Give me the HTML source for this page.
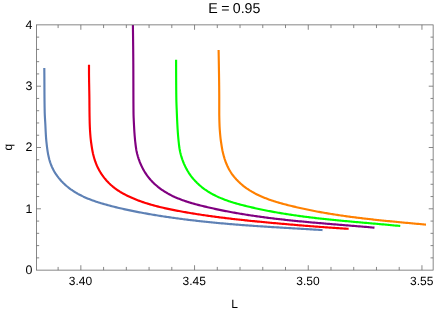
<!DOCTYPE html>
<html><head><meta charset="utf-8"><title>plot</title>
<style>
html,body{margin:0;padding:0;background:#fff;}
body{width:436px;height:313px;overflow:hidden;}
svg{display:block;font-family:"Liberation Sans",sans-serif;text-rendering:geometricPrecision;}
</style></head><body>
<div style="will-change:transform;width:436px;height:313px;">
<svg width="436" height="313" viewBox="0 0 436 313">
<rect x="0" y="0" width="436" height="313" fill="#ffffff"/>
<g>
<path d="M44.30,68.10 L44.32,69.60 L44.33,71.10 L44.34,72.60 L44.36,74.10 L44.37,75.60 L44.38,77.10 L44.39,78.60 L44.39,80.10 L44.40,81.60 L44.41,83.10 L44.42,84.60 L44.42,86.10 L44.43,87.60 L44.44,89.10 L44.44,90.60 L44.45,92.10 L44.46,93.60 L44.47,95.10 L44.48,96.60 L44.49,98.10 L44.51,99.60 L44.52,101.10 L44.54,102.60 L44.56,104.10 L44.58,105.60 L44.60,107.10 L44.63,108.60 L44.66,110.10 L44.69,111.60 L44.73,113.10 L44.79,114.60 L44.86,116.10 L44.94,117.60 L45.03,119.10 L45.12,120.60 L45.21,122.10 L45.30,123.60 L45.38,125.10 L45.45,126.60 L45.52,128.10 L45.59,129.60 L45.66,131.10 L45.74,132.60 L45.82,134.10 L45.91,135.60 L46.01,137.10 L46.12,138.60 L46.25,140.10 L46.40,141.60 L46.56,143.10 L46.73,144.60 L46.90,146.10 L47.09,147.60 L47.29,149.10 L47.50,150.60 L47.74,152.10 L48.00,153.60 L48.29,155.10 L48.55,156.33 L48.83,157.54 L49.13,158.75 L49.45,159.94 L49.80,161.13 L50.17,162.31 L50.57,163.47 L51.00,164.63 L51.45,165.77 L51.93,166.90 L52.44,168.01 L52.98,169.12 L53.55,170.20 L54.15,171.28 L54.78,172.34 L55.43,173.38 L56.11,174.41 L56.81,175.42 L57.53,176.42 L58.28,177.40 L59.05,178.37 L59.85,179.31 L60.66,180.24 L61.49,181.16 L62.35,182.05 L63.22,182.93 L64.11,183.79 L65.01,184.63 L65.93,185.45 L66.86,186.25 L67.81,187.03 L68.78,187.80 L69.75,188.54 L70.74,189.27 L71.74,189.97 L72.75,190.66 L73.78,191.33 L74.81,191.99 L75.86,192.62 L76.92,193.24 L77.98,193.85 L79.06,194.44 L80.15,195.01 L81.24,195.57 L82.35,196.11 L83.46,196.65 L84.58,197.16 L85.71,197.67 L86.85,198.16 L87.99,198.64 L89.14,199.10 L90.29,199.56 L91.46,200.00 L92.63,200.43 L93.80,200.85 L94.98,201.27 L96.16,201.67 L97.35,202.06 L98.54,202.44 L99.73,202.82 L100.93,203.19 L102.13,203.55 L103.33,203.90 L104.54,204.24 L105.74,204.58 L106.95,204.91 L108.16,205.24 L109.37,205.56 L110.58,205.88 L111.79,206.19 L113.00,206.49 L114.20,206.80 L115.41,207.10 L116.62,207.39 L117.83,207.68 L119.03,207.97 L120.24,208.25 L121.45,208.53 L122.66,208.81 L123.86,209.08 L125.07,209.35 L126.27,209.61 L127.48,209.87 L128.69,210.13 L129.89,210.39 L131.10,210.64 L132.31,210.89 L133.51,211.13 L134.72,211.37 L135.93,211.61 L137.13,211.85 L138.34,212.09 L139.55,212.32 L140.76,212.55 L141.97,212.77 L143.17,212.99 L144.38,213.22 L145.59,213.43 L146.81,213.65 L148.02,213.86 L149.23,214.08 L150.44,214.29 L151.65,214.49 L152.87,214.70 L154.08,214.90 L155.30,215.10 L156.51,215.30 L157.73,215.50 L158.95,215.69 L160.17,215.89 L161.38,216.08 L162.60,216.27 L163.82,216.45 L165.04,216.64 L166.26,216.82 L167.48,217.00 L168.71,217.18 L169.93,217.36 L171.15,217.54 L172.37,217.71 L173.60,217.88 L174.82,218.05 L176.05,218.22 L177.27,218.39 L178.50,218.55 L179.72,218.72 L180.95,218.88 L182.17,219.04 L183.40,219.20 L184.63,219.35 L185.86,219.51 L187.09,219.66 L188.31,219.81 L189.54,219.96 L190.77,220.11 L192.00,220.25 L193.23,220.40 L194.46,220.54 L195.69,220.68 L196.92,220.82 L198.15,220.96 L199.38,221.10 L200.62,221.23 L201.85,221.37 L203.08,221.50 L204.31,221.63 L205.54,221.76 L206.78,221.89 L208.01,222.02 L209.24,222.14 L210.48,222.27 L211.71,222.39 L212.94,222.51 L214.18,222.63 L215.41,222.75 L216.64,222.87 L217.88,222.98 L219.11,223.10 L220.35,223.21 L221.58,223.32 L222.81,223.44 L224.05,223.55 L225.28,223.65 L226.52,223.76 L227.75,223.87 L228.99,223.97 L230.22,224.08 L231.45,224.18 L232.69,224.28 L233.92,224.38 L235.16,224.48 L236.39,224.58 L237.62,224.68 L238.86,224.78 L240.09,224.87 L241.33,224.97 L242.56,225.06 L243.79,225.15 L245.03,225.24 L246.26,225.34 L247.49,225.43 L248.73,225.51 L249.96,225.60 L251.19,225.69 L252.42,225.78 L253.66,225.86 L254.89,225.95 L256.12,226.03 L257.35,226.11 L258.59,226.20 L259.82,226.28 L261.05,226.36 L262.28,226.44 L263.51,226.52 L264.75,226.60 L265.98,226.68 L267.21,226.76 L268.44,226.84 L269.67,226.91 L270.91,226.99 L272.14,227.07 L273.37,227.14 L274.60,227.22 L275.83,227.29 L277.07,227.37 L278.30,227.44 L279.53,227.52 L280.76,227.59 L282.00,227.67 L283.23,227.74 L284.46,227.81 L285.69,227.89 L286.93,227.96 L288.16,228.03 L289.39,228.10 L290.63,228.18 L291.86,228.25 L293.09,228.32 L294.33,228.39 L295.56,228.47 L296.79,228.54 L298.03,228.61 L299.26,228.68 L300.50,228.76 L301.73,228.83 L302.97,228.90 L304.20,228.97 L305.44,229.05 L306.67,229.12 L307.91,229.19 L309.15,229.27 L310.38,229.34 L311.62,229.42 L312.86,229.49 L314.09,229.57 L315.33,229.64 L316.57,229.72 L317.81,229.79 L319.05,229.87 L320.29,229.95 L321.53,230.02 L322.52,230.09" fill="none" stroke="#5e81b5" stroke-width="2.15" stroke-linejoin="round"/>
<path d="M89.00,64.75 L89.00,66.25 L89.00,67.75 L89.00,69.25 L89.00,70.75 L89.00,72.25 L89.01,73.75 L89.02,75.25 L89.04,76.75 L89.06,78.25 L89.08,79.75 L89.10,81.25 L89.12,82.75 L89.15,84.25 L89.18,85.75 L89.21,87.25 L89.23,88.75 L89.26,90.25 L89.29,91.75 L89.31,93.25 L89.34,94.75 L89.36,96.25 L89.38,97.75 L89.40,99.25 L89.41,100.75 L89.42,102.25 L89.43,103.75 L89.44,105.25 L89.45,106.75 L89.47,108.25 L89.48,109.75 L89.49,111.25 L89.51,112.75 L89.53,114.25 L89.55,115.75 L89.58,117.25 L89.61,118.75 L89.64,120.25 L89.67,121.75 L89.71,123.25 L89.76,124.75 L89.81,126.25 L89.88,127.75 L89.95,129.25 L90.04,130.75 L90.14,132.25 L90.24,133.75 L90.36,135.25 L90.48,136.75 L90.62,138.25 L90.78,139.75 L90.96,141.25 L91.16,142.75 L91.38,144.25 L91.60,145.75 L91.83,147.25 L92.07,148.75 L92.33,150.25 L92.62,151.75 L92.93,153.25 L93.28,154.75 L93.61,156.05 L93.94,157.26 L94.29,158.46 L94.66,159.65 L95.05,160.83 L95.46,162.00 L95.90,163.17 L96.36,164.32 L96.84,165.46 L97.35,166.59 L97.88,167.70 L98.44,168.81 L99.02,169.90 L99.62,170.97 L100.25,172.04 L100.90,173.08 L101.57,174.12 L102.26,175.14 L102.98,176.14 L103.71,177.13 L104.47,178.10 L105.25,179.05 L106.05,179.99 L106.87,180.91 L107.71,181.81 L108.57,182.70 L109.44,183.56 L110.34,184.41 L111.25,185.24 L112.18,186.04 L113.13,186.83 L114.10,187.60 L115.08,188.35 L116.08,189.08 L117.09,189.79 L118.11,190.49 L119.15,191.16 L120.20,191.83 L121.27,192.47 L122.34,193.10 L123.43,193.71 L124.53,194.31 L125.63,194.89 L126.75,195.46 L127.87,196.01 L129.00,196.55 L130.14,197.08 L131.28,197.59 L132.43,198.09 L133.59,198.58 L134.75,199.06 L135.91,199.53 L137.08,199.99 L138.25,200.43 L139.42,200.87 L140.59,201.29 L141.77,201.71 L142.94,202.12 L144.12,202.51 L145.31,202.90 L146.49,203.28 L147.68,203.65 L148.87,204.02 L150.06,204.37 L151.25,204.72 L152.44,205.06 L153.64,205.39 L154.84,205.72 L156.03,206.03 L157.23,206.35 L158.44,206.65 L159.64,206.95 L160.84,207.24 L162.05,207.53 L163.26,207.81 L164.47,208.08 L165.68,208.35 L166.89,208.62 L168.10,208.88 L169.31,209.14 L170.53,209.39 L171.74,209.64 L172.96,209.88 L174.17,210.12 L175.39,210.36 L176.61,210.59 L177.83,210.82 L179.04,211.05 L180.26,211.28 L181.48,211.50 L182.70,211.72 L183.93,211.94 L185.15,212.16 L186.37,212.37 L187.59,212.58 L188.81,212.79 L190.04,212.99 L191.26,213.20 L192.48,213.40 L193.71,213.60 L194.93,213.80 L196.16,213.99 L197.38,214.19 L198.61,214.38 L199.84,214.56 L201.06,214.75 L202.29,214.94 L203.52,215.12 L204.75,215.30 L205.97,215.48 L207.20,215.65 L208.43,215.83 L209.66,216.00 L210.89,216.17 L212.12,216.34 L213.35,216.51 L214.58,216.67 L215.81,216.84 L217.04,217.00 L218.28,217.16 L219.51,217.32 L220.74,217.48 L221.97,217.63 L223.21,217.79 L224.44,217.94 L225.67,218.09 L226.90,218.24 L228.14,218.39 L229.37,218.53 L230.61,218.68 L231.84,218.82 L233.07,218.96 L234.31,219.10 L235.54,219.24 L236.78,219.38 L238.01,219.52 L239.25,219.65 L240.48,219.79 L241.72,219.92 L242.96,220.05 L244.19,220.18 L245.43,220.31 L246.66,220.44 L247.90,220.57 L249.14,220.70 L250.37,220.82 L251.61,220.95 L252.84,221.07 L254.08,221.19 L255.32,221.32 L256.55,221.44 L257.79,221.56 L259.03,221.68 L260.27,221.80 L261.50,221.92 L262.74,222.03 L263.98,222.15 L265.21,222.27 L266.45,222.38 L267.69,222.50 L268.92,222.61 L270.16,222.72 L271.40,222.84 L272.63,222.95 L273.87,223.06 L275.11,223.17 L276.34,223.29 L277.58,223.40 L278.82,223.51 L280.05,223.62 L281.29,223.73 L282.53,223.84 L283.76,223.94 L285.00,224.05 L286.24,224.16 L287.47,224.27 L288.71,224.37 L289.95,224.48 L291.18,224.59 L292.42,224.69 L293.66,224.80 L294.89,224.90 L296.13,225.00 L297.37,225.11 L298.60,225.21 L299.84,225.31 L301.08,225.41 L302.31,225.51 L303.55,225.61 L304.79,225.71 L306.02,225.81 L307.26,225.91 L308.50,226.01 L309.74,226.11 L310.97,226.20 L312.21,226.30 L313.45,226.39 L314.69,226.49 L315.92,226.58 L317.16,226.68 L318.40,226.77 L319.64,226.86 L320.88,226.95 L322.11,227.04 L323.35,227.13 L324.59,227.22 L325.83,227.31 L327.07,227.40 L328.31,227.49 L329.55,227.58 L330.78,227.66 L332.02,227.75 L333.26,227.83 L334.50,227.92 L335.74,228.00 L336.98,228.08 L338.22,228.16 L339.46,228.24 L340.70,228.32 L341.94,228.40 L343.19,228.48 L344.43,228.56 L345.67,228.64 L346.91,228.71 L348.15,228.79 L348.62,228.82" fill="none" stroke="#ff0000" stroke-width="2.15" stroke-linejoin="round"/>
<path d="M132.90,25.00 L132.92,26.50 L132.94,28.00 L132.96,29.50 L132.98,31.00 L133.00,32.50 L133.02,34.00 L133.04,35.50 L133.06,37.00 L133.07,38.50 L133.09,40.00 L133.11,41.50 L133.13,43.00 L133.14,44.50 L133.16,46.00 L133.18,47.50 L133.19,49.00 L133.21,50.50 L133.22,52.00 L133.23,53.50 L133.25,55.00 L133.26,56.50 L133.27,58.00 L133.28,59.50 L133.29,61.00 L133.30,62.50 L133.31,64.00 L133.32,65.50 L133.32,67.00 L133.33,68.50 L133.34,70.00 L133.34,71.50 L133.35,73.00 L133.35,74.50 L133.36,76.00 L133.36,77.50 L133.36,79.00 L133.37,80.50 L133.37,82.00 L133.38,83.50 L133.38,85.00 L133.38,86.50 L133.39,88.00 L133.39,89.50 L133.39,91.00 L133.40,92.50 L133.40,94.00 L133.41,95.50 L133.41,97.00 L133.42,98.50 L133.42,100.00 L133.43,101.50 L133.44,103.00 L133.45,104.50 L133.46,106.00 L133.47,107.50 L133.48,109.00 L133.49,110.50 L133.50,112.00 L133.52,113.50 L133.55,115.00 L133.60,116.50 L133.66,118.00 L133.72,119.50 L133.79,121.00 L133.86,122.50 L133.94,124.00 L134.02,125.50 L134.10,127.00 L134.18,128.50 L134.27,130.00 L134.36,131.50 L134.46,133.00 L134.57,134.50 L134.69,136.00 L134.82,137.50 L134.95,139.00 L135.09,140.50 L135.26,142.00 L135.44,143.50 L135.62,145.00 L135.81,146.50 L136.02,148.00 L136.25,149.50 L136.53,151.00 L136.86,152.50 L137.22,154.00 L137.62,155.50 L137.97,156.71 L138.34,157.89 L138.72,159.07 L139.13,160.23 L139.55,161.38 L140.00,162.53 L140.47,163.67 L140.96,164.79 L141.47,165.90 L142.01,167.01 L142.56,168.10 L143.14,169.18 L143.73,170.24 L144.35,171.30 L144.99,172.34 L145.65,173.36 L146.33,174.37 L147.03,175.37 L147.75,176.35 L148.50,177.32 L149.26,178.27 L150.05,179.20 L150.85,180.11 L151.68,181.01 L152.52,181.89 L153.38,182.76 L154.26,183.61 L155.16,184.44 L156.08,185.25 L157.01,186.04 L157.95,186.82 L158.91,187.58 L159.89,188.33 L160.87,189.05 L161.87,189.76 L162.89,190.46 L163.91,191.13 L164.94,191.79 L165.99,192.43 L167.04,193.05 L168.10,193.66 L169.17,194.24 L170.25,194.82 L171.34,195.37 L172.43,195.92 L173.54,196.44 L174.65,196.96 L175.76,197.45 L176.89,197.94 L178.02,198.41 L179.15,198.87 L180.29,199.32 L181.44,199.75 L182.59,200.18 L183.75,200.59 L184.92,200.99 L186.08,201.38 L187.26,201.76 L188.43,202.14 L189.61,202.50 L190.80,202.86 L191.98,203.21 L193.17,203.55 L194.36,203.88 L195.56,204.21 L196.75,204.53 L197.95,204.84 L199.15,205.15 L200.35,205.46 L201.56,205.76 L202.76,206.05 L203.96,206.35 L205.17,206.64 L206.37,206.92 L207.57,207.20 L208.78,207.48 L209.98,207.76 L211.19,208.03 L212.40,208.30 L213.60,208.57 L214.81,208.83 L216.01,209.09 L217.22,209.35 L218.43,209.61 L219.63,209.86 L220.84,210.11 L222.05,210.35 L223.26,210.60 L224.47,210.84 L225.68,211.07 L226.88,211.31 L228.09,211.54 L229.30,211.77 L230.51,211.99 L231.72,212.22 L232.93,212.44 L234.14,212.65 L235.36,212.87 L236.57,213.08 L237.78,213.29 L238.99,213.50 L240.20,213.71 L241.41,213.91 L242.63,214.11 L243.84,214.31 L245.05,214.50 L246.27,214.70 L247.48,214.89 L248.69,215.08 L249.91,215.26 L251.12,215.45 L252.33,215.63 L253.55,215.81 L254.76,215.99 L255.98,216.16 L257.19,216.33 L258.41,216.51 L259.63,216.67 L260.84,216.84 L262.06,217.01 L263.27,217.17 L264.49,217.33 L265.71,217.49 L266.92,217.65 L268.14,217.81 L269.36,217.96 L270.58,218.11 L271.79,218.26 L273.01,218.41 L274.23,218.56 L275.45,218.70 L276.67,218.85 L277.89,218.99 L279.11,219.13 L280.32,219.27 L281.54,219.41 L282.76,219.54 L283.98,219.68 L285.20,219.81 L286.42,219.95 L287.64,220.08 L288.86,220.21 L290.08,220.33 L291.31,220.46 L292.53,220.59 L293.75,220.71 L294.97,220.83 L296.19,220.95 L297.41,221.08 L298.63,221.20 L299.86,221.31 L301.08,221.43 L302.30,221.55 L303.52,221.66 L304.75,221.78 L305.97,221.89 L307.19,222.00 L308.41,222.12 L309.64,222.23 L310.86,222.34 L312.08,222.45 L313.31,222.56 L314.53,222.66 L315.75,222.77 L316.98,222.88 L318.20,222.98 L319.43,223.09 L320.65,223.19 L321.88,223.30 L323.10,223.40 L324.33,223.51 L325.55,223.61 L326.77,223.71 L328.00,223.81 L329.23,223.91 L330.45,224.02 L331.68,224.12 L332.90,224.22 L334.13,224.32 L335.35,224.42 L336.58,224.52 L337.80,224.62 L339.03,224.72 L340.26,224.82 L341.48,224.92 L342.71,225.02 L343.93,225.12 L345.16,225.21 L346.39,225.31 L347.61,225.41 L348.84,225.51 L350.07,225.61 L351.29,225.71 L352.52,225.81 L353.75,225.91 L354.98,226.01 L356.20,226.11 L357.43,226.21 L358.66,226.32 L359.88,226.42 L361.11,226.52 L362.34,226.62 L363.57,226.72 L364.79,226.83 L366.02,226.93 L367.25,227.04 L368.48,227.14 L369.70,227.25 L370.93,227.35 L372.16,227.46 L373.39,227.57 L374.47,227.66" fill="none" stroke="#800080" stroke-width="2.15" stroke-linejoin="round"/>
<path d="M176.10,59.75 L176.10,61.25 L176.10,62.75 L176.10,64.25 L176.11,65.75 L176.11,67.25 L176.11,68.75 L176.12,70.25 L176.12,71.75 L176.13,73.25 L176.13,74.75 L176.14,76.25 L176.15,77.75 L176.15,79.25 L176.16,80.75 L176.17,82.25 L176.18,83.75 L176.19,85.25 L176.20,86.75 L176.21,88.25 L176.22,89.75 L176.24,91.25 L176.25,92.75 L176.27,94.25 L176.29,95.75 L176.31,97.25 L176.34,98.75 L176.36,100.25 L176.40,101.75 L176.45,103.25 L176.50,104.75 L176.56,106.25 L176.62,107.75 L176.69,109.25 L176.75,110.75 L176.81,112.25 L176.87,113.75 L176.93,115.25 L176.99,116.75 L177.05,118.25 L177.12,119.75 L177.19,121.25 L177.26,122.75 L177.34,124.25 L177.42,125.75 L177.50,127.25 L177.59,128.75 L177.69,130.25 L177.79,131.75 L177.89,133.25 L178.01,134.75 L178.13,136.25 L178.27,137.75 L178.41,139.25 L178.56,140.75 L178.72,142.25 L178.88,143.75 L179.06,145.25 L179.25,146.75 L179.47,148.25 L179.73,149.75 L180.02,151.25 L180.35,152.75 L180.72,154.25 L181.13,155.75 L181.48,156.92 L181.85,158.10 L182.24,159.28 L182.66,160.44 L183.10,161.59 L183.56,162.74 L184.03,163.87 L184.54,165.00 L185.06,166.11 L185.60,167.21 L186.16,168.30 L186.75,169.38 L187.35,170.45 L187.98,171.50 L188.63,172.54 L189.30,173.56 L189.99,174.57 L190.70,175.57 L191.43,176.55 L192.18,177.51 L192.95,178.46 L193.75,179.40 L194.56,180.31 L195.40,181.21 L196.25,182.09 L197.12,182.96 L198.01,183.80 L198.92,184.64 L199.84,185.45 L200.78,186.25 L201.73,187.03 L202.70,187.79 L203.68,188.53 L204.67,189.26 L205.68,189.97 L206.70,190.66 L207.73,191.34 L208.77,191.99 L209.82,192.63 L210.88,193.26 L211.95,193.86 L213.03,194.45 L214.11,195.02 L215.20,195.57 L216.31,196.11 L217.42,196.64 L218.53,197.15 L219.65,197.64 L220.78,198.13 L221.92,198.60 L223.06,199.05 L224.21,199.50 L225.36,199.93 L226.52,200.35 L227.69,200.76 L228.85,201.16 L230.03,201.55 L231.20,201.93 L232.38,202.30 L233.57,202.66 L234.76,203.02 L235.95,203.36 L237.14,203.70 L238.33,204.03 L239.53,204.36 L240.73,204.68 L241.93,204.99 L243.13,205.30 L244.33,205.61 L245.54,205.91 L246.74,206.20 L247.94,206.50 L249.15,206.79 L250.35,207.07 L251.56,207.35 L252.77,207.63 L253.97,207.91 L255.18,208.18 L256.39,208.45 L257.59,208.71 L258.80,208.97 L260.01,209.23 L261.22,209.48 L262.43,209.73 L263.64,209.98 L264.85,210.23 L266.06,210.47 L267.27,210.71 L268.48,210.94 L269.69,211.17 L270.90,211.40 L272.12,211.63 L273.33,211.85 L274.54,212.07 L275.75,212.29 L276.97,212.50 L278.18,212.71 L279.40,212.92 L280.61,213.12 L281.83,213.33 L283.04,213.53 L284.26,213.73 L285.47,213.92 L286.69,214.11 L287.91,214.30 L289.12,214.49 L290.34,214.68 L291.56,214.86 L292.78,215.04 L294.00,215.22 L295.22,215.39 L296.43,215.56 L297.65,215.74 L298.87,215.90 L300.09,216.07 L301.31,216.24 L302.53,216.40 L303.75,216.56 L304.97,216.72 L306.20,216.87 L307.42,217.03 L308.64,217.18 L309.86,217.33 L311.08,217.48 L312.31,217.63 L313.53,217.77 L314.75,217.92 L315.97,218.06 L317.20,218.20 L318.42,218.34 L319.64,218.48 L320.87,218.61 L322.09,218.75 L323.32,218.88 L324.54,219.01 L325.77,219.14 L326.99,219.27 L328.22,219.40 L329.44,219.53 L330.67,219.65 L331.89,219.78 L333.12,219.90 L334.34,220.02 L335.57,220.14 L336.80,220.26 L338.02,220.38 L339.25,220.50 L340.48,220.62 L341.70,220.73 L342.93,220.85 L344.16,220.96 L345.38,221.08 L346.61,221.19 L347.84,221.30 L349.07,221.41 L350.29,221.53 L351.52,221.64 L352.75,221.75 L353.98,221.86 L355.21,221.97 L356.43,222.07 L357.66,222.18 L358.89,222.29 L360.12,222.40 L361.35,222.51 L362.58,222.61 L363.81,222.72 L365.03,222.83 L366.26,222.94 L367.49,223.04 L368.72,223.15 L369.95,223.26 L371.18,223.36 L372.41,223.47 L373.64,223.58 L374.87,223.68 L376.09,223.79 L377.32,223.90 L378.55,224.01 L379.78,224.12 L381.01,224.22 L382.24,224.33 L383.47,224.44 L384.70,224.55 L385.93,224.66 L387.16,224.77 L388.39,224.89 L389.61,225.00 L390.84,225.11 L392.07,225.22 L393.30,225.34 L394.53,225.45 L395.76,225.57 L396.99,225.69 L398.22,225.80 L399.45,225.92 L400.27,226.00" fill="none" stroke="#00ff00" stroke-width="2.15" stroke-linejoin="round"/>
<path d="M218.60,50.00 L218.63,51.50 L218.66,53.00 L218.68,54.50 L218.71,56.00 L218.73,57.50 L218.76,59.00 L218.78,60.50 L218.81,62.00 L218.83,63.50 L218.86,65.00 L218.88,66.50 L218.91,68.00 L218.93,69.50 L218.96,71.00 L218.98,72.50 L219.01,74.00 L219.03,75.50 L219.05,77.00 L219.08,78.50 L219.10,80.00 L219.12,81.50 L219.14,83.00 L219.15,84.50 L219.17,86.00 L219.19,87.50 L219.20,89.00 L219.21,90.50 L219.22,92.00 L219.23,93.50 L219.24,95.00 L219.25,96.50 L219.25,98.00 L219.25,99.50 L219.25,101.00 L219.25,102.50 L219.25,104.00 L219.25,105.50 L219.25,107.00 L219.25,108.50 L219.25,110.00 L219.25,111.50 L219.25,113.00 L219.26,114.50 L219.28,116.00 L219.31,117.50 L219.34,119.00 L219.38,120.50 L219.42,122.00 L219.47,123.50 L219.52,125.00 L219.58,126.50 L219.66,128.00 L219.76,129.50 L219.87,131.00 L219.99,132.50 L220.12,134.00 L220.26,135.50 L220.40,137.00 L220.56,138.50 L220.75,140.00 L220.96,141.50 L221.19,143.00 L221.42,144.50 L221.65,146.00 L221.89,147.50 L222.15,149.00 L222.43,150.50 L222.76,152.00 L223.12,153.50 L223.50,155.00 L223.83,156.20 L224.17,157.38 L224.52,158.55 L224.90,159.71 L225.30,160.87 L225.72,162.01 L226.16,163.14 L226.62,164.27 L227.10,165.38 L227.61,166.48 L228.13,167.56 L228.69,168.64 L229.26,169.70 L229.87,170.74 L230.49,171.77 L231.15,172.79 L231.83,173.79 L232.54,174.77 L233.27,175.74 L234.02,176.69 L234.80,177.63 L235.59,178.54 L236.41,179.45 L237.25,180.33 L238.11,181.20 L238.99,182.06 L239.88,182.89 L240.80,183.71 L241.72,184.51 L242.67,185.30 L243.62,186.07 L244.60,186.82 L245.58,187.55 L246.57,188.27 L247.58,188.96 L248.60,189.64 L249.62,190.31 L250.66,190.95 L251.70,191.58 L252.75,192.19 L253.81,192.78 L254.88,193.36 L255.96,193.93 L257.04,194.47 L258.13,195.01 L259.23,195.53 L260.33,196.03 L261.44,196.53 L262.55,197.01 L263.68,197.48 L264.80,197.93 L265.94,198.37 L267.07,198.81 L268.22,199.23 L269.36,199.64 L270.52,200.04 L271.67,200.44 L272.83,200.82 L274.00,201.19 L275.16,201.56 L276.33,201.92 L277.50,202.27 L278.68,202.61 L279.86,202.95 L281.03,203.28 L282.22,203.61 L283.40,203.93 L284.58,204.25 L285.77,204.56 L286.95,204.87 L288.14,205.17 L289.32,205.47 L290.51,205.77 L291.70,206.06 L292.89,206.35 L294.08,206.64 L295.26,206.92 L296.45,207.20 L297.64,207.48 L298.84,207.75 L300.03,208.02 L301.22,208.29 L302.41,208.55 L303.60,208.81 L304.80,209.07 L305.99,209.32 L307.19,209.57 L308.38,209.82 L309.58,210.06 L310.77,210.30 L311.97,210.54 L313.16,210.78 L314.36,211.01 L315.56,211.24 L316.76,211.47 L317.96,211.69 L319.15,211.91 L320.35,212.13 L321.55,212.35 L322.75,212.56 L323.95,212.77 L325.16,212.98 L326.36,213.18 L327.56,213.39 L328.76,213.59 L329.96,213.78 L331.17,213.98 L332.37,214.17 L333.57,214.36 L334.78,214.55 L335.98,214.74 L337.19,214.92 L338.39,215.10 L339.60,215.28 L340.80,215.46 L342.01,215.64 L343.21,215.81 L344.42,215.98 L345.63,216.15 L346.83,216.32 L348.04,216.48 L349.25,216.65 L350.46,216.81 L351.67,216.97 L352.87,217.12 L354.08,217.28 L355.29,217.43 L356.50,217.59 L357.71,217.74 L358.92,217.89 L360.13,218.04 L361.34,218.18 L362.55,218.33 L363.76,218.47 L364.97,218.61 L366.19,218.75 L367.40,218.89 L368.61,219.03 L369.82,219.16 L371.03,219.30 L372.24,219.43 L373.46,219.57 L374.67,219.70 L375.88,219.83 L377.09,219.96 L378.31,220.08 L379.52,220.21 L380.73,220.34 L381.95,220.46 L383.16,220.59 L384.38,220.71 L385.59,220.83 L386.80,220.95 L388.02,221.07 L389.23,221.19 L390.45,221.31 L391.66,221.43 L392.87,221.55 L394.09,221.67 L395.30,221.78 L396.52,221.90 L397.73,222.01 L398.95,222.13 L400.16,222.24 L401.38,222.36 L402.59,222.47 L403.81,222.58 L405.02,222.70 L406.24,222.81 L407.45,222.92 L408.67,223.03 L409.88,223.15 L411.10,223.26 L412.31,223.37 L413.53,223.48 L414.74,223.59 L415.96,223.70 L417.17,223.82 L418.39,223.93 L419.60,224.04 L420.82,224.15 L422.03,224.26 L423.25,224.38 L424.46,224.49 L425.68,224.60 L425.99,224.63" fill="none" stroke="#ff8000" stroke-width="2.15" stroke-linejoin="round"/>
</g>
<g stroke="#666666" stroke-width="0.78" fill="none">
<rect x="36.57" y="24.87" width="396.57" height="245.26"/>
<line x1="58.11" y1="270.13" x2="58.11" y2="266.93"/>
<line x1="58.11" y1="24.87" x2="58.11" y2="28.07"/>
<line x1="80.85" y1="270.13" x2="80.85" y2="265.23"/>
<line x1="80.85" y1="24.87" x2="80.85" y2="29.770000000000003"/>
<line x1="103.59" y1="270.13" x2="103.59" y2="266.93"/>
<line x1="103.59" y1="24.87" x2="103.59" y2="28.07"/>
<line x1="126.33" y1="270.13" x2="126.33" y2="266.93"/>
<line x1="126.33" y1="24.87" x2="126.33" y2="28.07"/>
<line x1="149.07" y1="270.13" x2="149.07" y2="266.93"/>
<line x1="149.07" y1="24.87" x2="149.07" y2="28.07"/>
<line x1="171.81" y1="270.13" x2="171.81" y2="266.93"/>
<line x1="171.81" y1="24.87" x2="171.81" y2="28.07"/>
<line x1="194.55" y1="270.13" x2="194.55" y2="265.23"/>
<line x1="194.55" y1="24.87" x2="194.55" y2="29.770000000000003"/>
<line x1="217.29" y1="270.13" x2="217.29" y2="266.93"/>
<line x1="217.29" y1="24.87" x2="217.29" y2="28.07"/>
<line x1="240.03" y1="270.13" x2="240.03" y2="266.93"/>
<line x1="240.03" y1="24.87" x2="240.03" y2="28.07"/>
<line x1="262.77" y1="270.13" x2="262.77" y2="266.93"/>
<line x1="262.77" y1="24.87" x2="262.77" y2="28.07"/>
<line x1="285.51" y1="270.13" x2="285.51" y2="266.93"/>
<line x1="285.51" y1="24.87" x2="285.51" y2="28.07"/>
<line x1="308.25" y1="270.13" x2="308.25" y2="265.23"/>
<line x1="308.25" y1="24.87" x2="308.25" y2="29.770000000000003"/>
<line x1="330.99" y1="270.13" x2="330.99" y2="266.93"/>
<line x1="330.99" y1="24.87" x2="330.99" y2="28.07"/>
<line x1="353.73" y1="270.13" x2="353.73" y2="266.93"/>
<line x1="353.73" y1="24.87" x2="353.73" y2="28.07"/>
<line x1="376.47" y1="270.13" x2="376.47" y2="266.93"/>
<line x1="376.47" y1="24.87" x2="376.47" y2="28.07"/>
<line x1="399.21" y1="270.13" x2="399.21" y2="266.93"/>
<line x1="399.21" y1="24.87" x2="399.21" y2="28.07"/>
<line x1="421.95" y1="270.13" x2="421.95" y2="265.23"/>
<line x1="421.95" y1="24.87" x2="421.95" y2="29.770000000000003"/>
<line x1="36.57" y1="257.87" x2="39.17" y2="257.87"/>
<line x1="433.14" y1="257.87" x2="430.53999999999996" y2="257.87"/>
<line x1="36.57" y1="245.60" x2="39.17" y2="245.60"/>
<line x1="433.14" y1="245.60" x2="430.53999999999996" y2="245.60"/>
<line x1="36.57" y1="233.34" x2="39.17" y2="233.34"/>
<line x1="433.14" y1="233.34" x2="430.53999999999996" y2="233.34"/>
<line x1="36.57" y1="221.08" x2="39.17" y2="221.08"/>
<line x1="433.14" y1="221.08" x2="430.53999999999996" y2="221.08"/>
<line x1="36.57" y1="208.81" x2="40.97" y2="208.81"/>
<line x1="433.14" y1="208.81" x2="428.74" y2="208.81"/>
<line x1="36.57" y1="196.55" x2="39.17" y2="196.55"/>
<line x1="433.14" y1="196.55" x2="430.53999999999996" y2="196.55"/>
<line x1="36.57" y1="184.29" x2="39.17" y2="184.29"/>
<line x1="433.14" y1="184.29" x2="430.53999999999996" y2="184.29"/>
<line x1="36.57" y1="172.03" x2="39.17" y2="172.03"/>
<line x1="433.14" y1="172.03" x2="430.53999999999996" y2="172.03"/>
<line x1="36.57" y1="159.76" x2="39.17" y2="159.76"/>
<line x1="433.14" y1="159.76" x2="430.53999999999996" y2="159.76"/>
<line x1="36.57" y1="147.50" x2="40.97" y2="147.50"/>
<line x1="433.14" y1="147.50" x2="428.74" y2="147.50"/>
<line x1="36.57" y1="135.24" x2="39.17" y2="135.24"/>
<line x1="433.14" y1="135.24" x2="430.53999999999996" y2="135.24"/>
<line x1="36.57" y1="122.97" x2="39.17" y2="122.97"/>
<line x1="433.14" y1="122.97" x2="430.53999999999996" y2="122.97"/>
<line x1="36.57" y1="110.71" x2="39.17" y2="110.71"/>
<line x1="433.14" y1="110.71" x2="430.53999999999996" y2="110.71"/>
<line x1="36.57" y1="98.45" x2="39.17" y2="98.45"/>
<line x1="433.14" y1="98.45" x2="430.53999999999996" y2="98.45"/>
<line x1="36.57" y1="86.19" x2="40.97" y2="86.19"/>
<line x1="433.14" y1="86.19" x2="428.74" y2="86.19"/>
<line x1="36.57" y1="73.92" x2="39.17" y2="73.92"/>
<line x1="433.14" y1="73.92" x2="430.53999999999996" y2="73.92"/>
<line x1="36.57" y1="61.66" x2="39.17" y2="61.66"/>
<line x1="433.14" y1="61.66" x2="430.53999999999996" y2="61.66"/>
<line x1="36.57" y1="49.40" x2="39.17" y2="49.40"/>
<line x1="433.14" y1="49.40" x2="430.53999999999996" y2="49.40"/>
<line x1="36.57" y1="37.13" x2="39.17" y2="37.13"/>
<line x1="433.14" y1="37.13" x2="430.53999999999996" y2="37.13"/>
</g>
<g font-size="12" fill="#000000">
<text x="80.55" y="285.4" text-anchor="middle">3.40</text>
<text x="194.25" y="285.4" text-anchor="middle">3.45</text>
<text x="307.95" y="285.4" text-anchor="middle">3.50</text>
<text x="421.65" y="285.4" text-anchor="middle">3.55</text>
<text x="32.5" y="274.08" text-anchor="end" font-size="12.4">0</text>
<text x="32.5" y="212.76" text-anchor="end" font-size="12.4">1</text>
<text x="32.5" y="151.45" text-anchor="end" font-size="12.4">2</text>
<text x="32.5" y="90.14" text-anchor="end" font-size="12.4">3</text>
<text x="32.5" y="28.82" text-anchor="end" font-size="12.4">4</text>
<text x="234.7" y="308.1" text-anchor="middle">L</text>
<text transform="translate(11.75,147.1) rotate(-90)" text-anchor="middle">q</text>
<text x="208.3" y="13.1" font-size="14.2">E</text>
<text x="221.2" y="13.1" font-size="14.2">=</text>
<text x="232.75" y="13.1" font-size="14.2">0.95</text>
</g>
</svg>
</div>
</body></html>
